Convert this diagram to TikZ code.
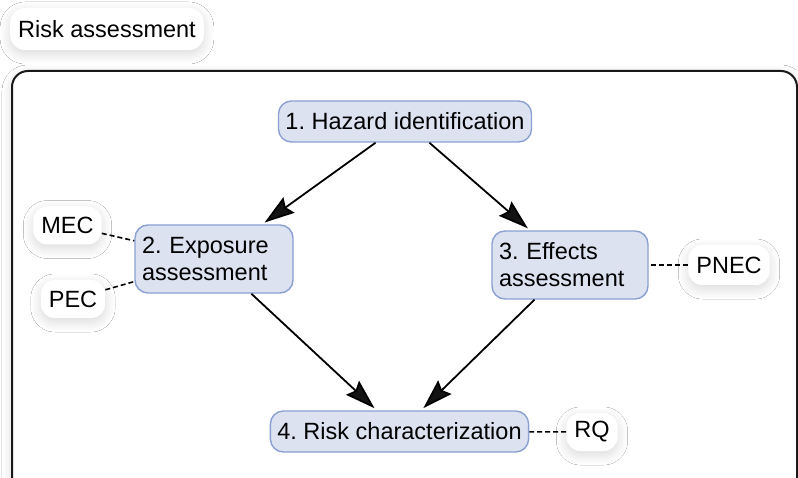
\documentclass[tikz,border=0pt]{standalone}
\usepackage{fontspec}
\setmainfont{Liberation Sans}
\usetikzlibrary{arrows.meta,shadows.blur}
\definecolor{bluefill}{RGB}{221,226,241}
\definecolor{blueedge}{RGB}{138,160,210}
\tikzset{
  softshadow/.style={blur shadow={shadow blur radius=10pt, shadow xshift=0pt, shadow yshift=-4pt, shadow opacity=15, shadow blur steps=14}},
  stepbox/.style={draw=blueedge, fill=bluefill, line width=1.4pt, rounded corners=13pt,
     font=\fontsize{23.5}{27}\selectfont, inner xsep=7pt, inner ysep=4pt},
  onebox/.style={stepbox, minimum height=41pt},
  twobox/.style={stepbox, minimum height=68pt, align=left},
  tagbox/.style={fill=white, rounded corners=14pt, softshadow, minimum height=38pt,
     inner xsep=8pt, font=\fontsize{23.5}{27}\selectfont},
  arr/.style={line width=1.8pt, -{Stealth[length=30pt,width=19pt,inset=4pt]}, shorten >=3pt},
  dashline/.style={line width=1.6pt, dash pattern=on 5pt off 3pt},
}
\begin{document}
\frenchspacing
\begin{tikzpicture}[x=1pt,y=-1pt]
\useasboundingbox (0,0) rectangle (798,478);
\fill[white] (0,0) rectangle (798,478);
% outer frame
\filldraw[fill=white, draw=black!90, line width=2pt, rounded corners=16pt, softshadow] (12,71) rectangle (797,505);
% title
\node[tagbox, minimum height=42pt, rounded corners=15pt] (title) at (107,29) {Risk assessment};
% steps
\node[onebox] (n1) at (405,121.5) {1. Hazard identification};
\node[twobox, text width=144pt] (n2) at (214,259) {2. Exposure\\assessment};
\node[twobox, text width=142pt] (n3) at (570,265) {3. Effects\\assessment};
\node[onebox] (n4) at (399.5,431.5) {4. Risk characterization};
% tags
\node[tagbox] (mec) at (67.5,225.5) {MEC};
\node[tagbox] (pec) at (73,299) {PEC};
\node[tagbox, minimum height=40pt] (pnec) at (729,265) {PNEC};
\node[tagbox] (rq) at (592,432) {RQ};
% arrows
\draw[arr] (n1) -- (n2);
\draw[arr] (n1) -- (n3);
\draw[arr] (n2) -- (n4);
\draw[arr] (n3) -- (n4);
% dashed links
\draw[dashline] (mec) -- (n2);
\draw[dashline] (pec) -- (n2);
\draw[dashline] (pnec) -- (n3);
\draw[dashline] (rq) -- (n4);
\end{tikzpicture}
\end{document}
